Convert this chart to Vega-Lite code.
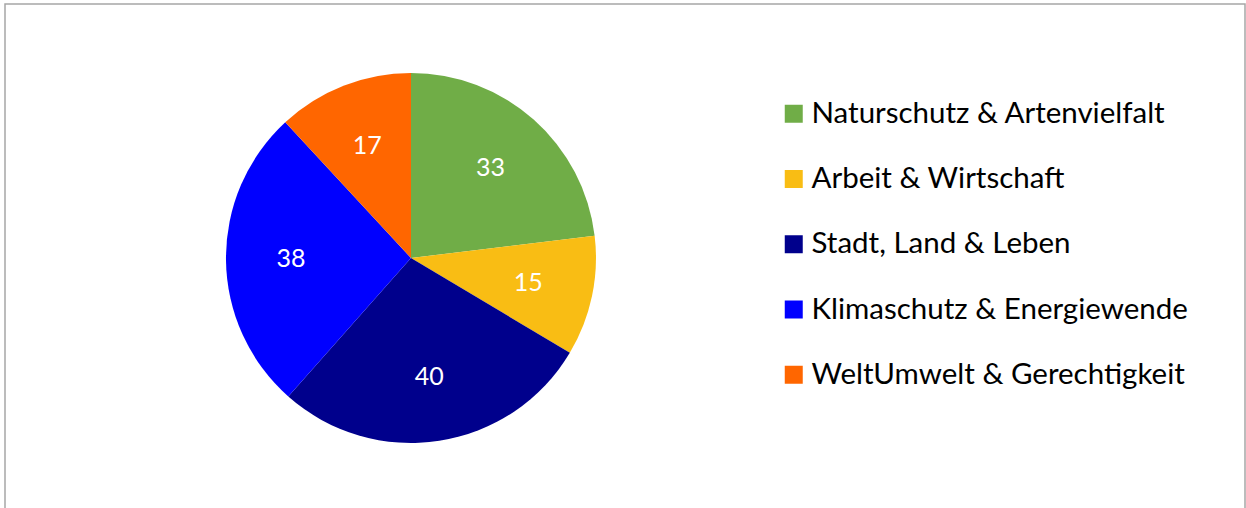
{
  "$schema": "https://vega.github.io/schema/vega-lite/v6.json",
  "autosize": {"type": "fit", "contains": "padding"},
  "width": 1246,
  "height": 508,
  "padding": {"left": 5, "top": 4, "right": 1, "bottom": -4},
  "background": "white",
  "config": {
    "view": {"stroke": "#A6A6A6", "strokeWidth": 1.5},
    "font": "Lato"
  },
  "data": {
    "values": [
      {"Thema": "Naturschutz & Artenvielfalt", "Anzahl": 33, "Reihenfolge": 1},
      {"Thema": "Arbeit & Wirtschaft", "Anzahl": 15, "Reihenfolge": 2},
      {"Thema": "Stadt, Land & Leben", "Anzahl": 40, "Reihenfolge": 3},
      {"Thema": "Klimaschutz & Energiewende", "Anzahl": 38, "Reihenfolge": 4},
      {"Thema": "WeltUmwelt & Gerechtigkeit", "Anzahl": 17, "Reihenfolge": 5}
    ]
  },
  "encoding": {
    "theta": {"field": "Anzahl", "type": "quantitative", "stack": true},
    "order": {"field": "Reihenfolge", "type": "quantitative", "sort": "ascending"},
    "x": {"datum": 0.3274, "type": "quantitative", "scale": {"domain": [0, 1]}, "axis": null}
  },
  "layer": [
    {
      "mark": {"type": "arc", "outerRadius": 185, "stroke": null},
      "encoding": {
        "color": {
          "field": "Thema",
          "type": "nominal",
          "sort": null,
          "scale": {
            "domain": ["Naturschutz & Artenvielfalt", "Arbeit & Wirtschaft", "Stadt, Land & Leben", "Klimaschutz & Energiewende", "WeltUmwelt & Gerechtigkeit"],
            "range": ["#70AD47", "#F9BD14", "#00008C", "#0000FF", "#FF6600"]
          },
          "legend": {
            "title": null,
            "orient": "none",
            "legendX": 774,
            "legendY": 95,
            "padding": 0,
            "symbolType": "square",
            "symbolSize": 324,
            "symbolStrokeWidth": 0,
            "labelFontSize": 29.5,
            "labelFont": "Lato",
            "labelColor": "#000000",
            "labelOffset": 3,
            "rowPadding": 34.25,
            "labelLimit": 500
          }
        }
      }
    },
    {
      "mark": {"type": "text", "radius": 120, "fontSize": 25, "fill": "white", "font": "Lato"},
      "encoding": {"text": {"field": "Anzahl", "type": "quantitative"}, "detail": {"field": "Thema", "type": "nominal"}}
    }
  ]
}
